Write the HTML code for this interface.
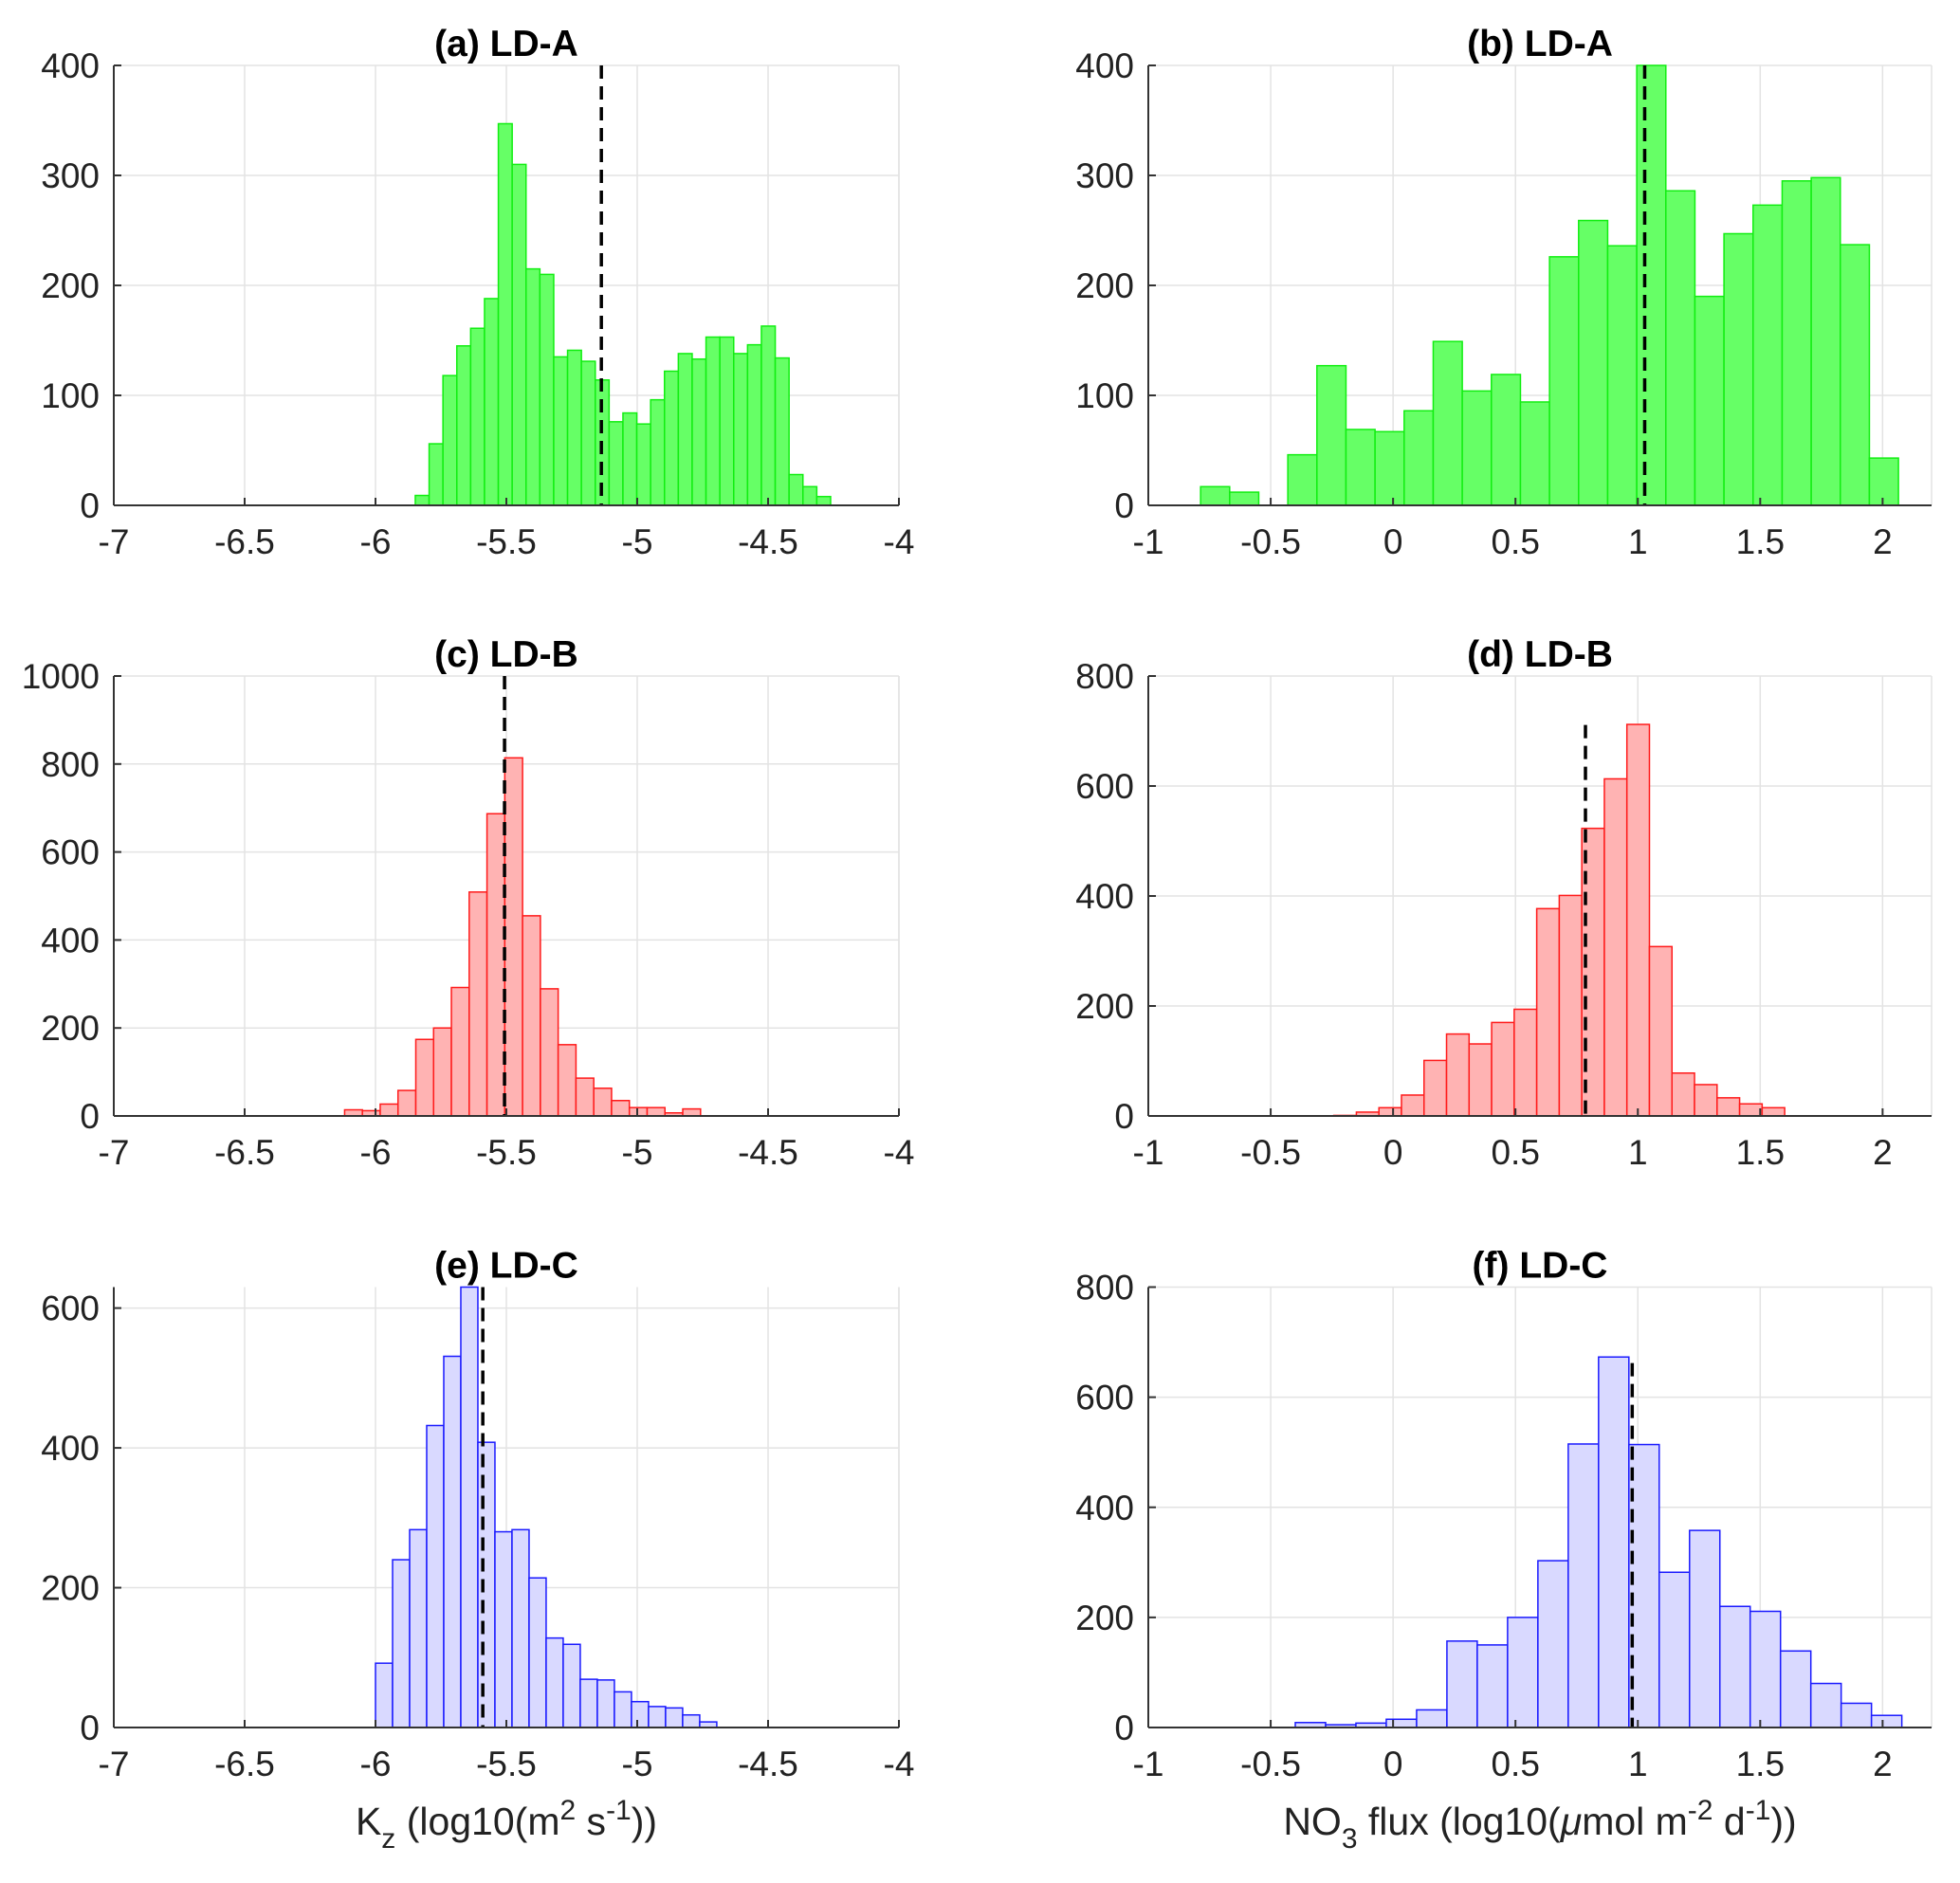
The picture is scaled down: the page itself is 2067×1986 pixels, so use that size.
<!DOCTYPE html>
<html><head><meta charset="utf-8"><style>
html,body{margin:0;padding:0;background:#fff;}
svg{display:block;font-family:"Liberation Sans",Arial,sans-serif;}
</style></head><body>
<svg id="fig" width="2067" height="1986" viewBox="0 0 2067 1986" xmlns="http://www.w3.org/2000/svg"></svg>
<script>
// Panel (a) Kz LD-A
const aStart = -5.848, aWidth = 0.0529;
const aCounts = [9,56,118,145,161,188,347,310,215,210,135,141,131,114,76,84,74,96,122,138,133,153,153,138,146,163,134,28,17,8];
const aMedian = -5.137, aMedTop = 400;
// Panel (b) NO3 LD-A
const bStart = -1.024, bWidth = 0.1188;
const bCounts = [0,0,17,12,0,46,127,69,67,86,149,104,119,94,226,259,236,400,286,190,247,273,295,298,237,43];
const bMedian = 1.028, bMedTop = 400;
// Panel (c) Kz LD-B
const cStart = -6.118, cWidth = 0.068;
const cCounts = [14,12,27,58,174,200,292,509,687,814,455,289,162,86,63,35,19,19,7,16];
const cMedian = -5.507, cMedTop = 1000;
// Panel (d) NO3 LD-B
const dStart = -0.242, dWidth = 0.0921;
const dCounts = [1,7,15,38,101,149,131,170,194,377,401,523,613,712,308,78,57,33,22,15];
const dMedian = 0.786, dMedTop = 711;
// Panel (e) Kz LD-C
const eStart = -6.0, eWidth = 0.0652;
const eCounts = [92,240,283,432,531,630,408,280,283,214,128,119,69,68,51,37,30,28,18,8];
const eMedian = -5.59, eMedTop = 630;
// Panel (f) NO3 LD-C
const fStart = -0.3995, fWidth = 0.1239;
const fCounts = [9,5,8,15,32,157,150,200,303,515,673,514,282,358,220,211,139,80,44,22];
const fMedian = 0.977, fMedTop = 662;

const kzTicks = [-7,-6.5,-6,-5.5,-5,-4.5,-4];
const kzTickLabels = ["-7","-6.5","-6","-5.5","-5","-4.5","-4"];
const no3Ticks = [-1,-0.5,0,0.5,1,1.5,2];
const no3TickLabels = ["-1","-0.5","0","0.5","1","1.5","2"];
const y400 = [0,100,200,300,400];
const y1000 = [0,200,400,600,800,1000];
const y800 = [0,200,400,600,800];
const y600 = [0,200,400,600];

const NS = "http://www.w3.org/2000/svg";
const svg = document.getElementById('fig');
function mk(tag, attrs, parent){
  const e = document.createElementNS(NS, tag);
  for (const k in attrs) e.setAttribute(k, attrs[k]);
  (parent||svg).appendChild(e);
  return e;
}
const LX=[120,948], RX=[1211,2037];
const ROWS=[[69,533],[713,1177],[1357.5,1822]];
const colors = {
  green:{fill:'#66ff66',stroke:'#11ee11'},
  red:{fill:'#ffb3b3',stroke:'#ff1a1a'},
  blue:{fill:'#d9d9ff',stroke:'#1a1aff'}
};
function panel(id, title, box, row, xmin, xmax, ymax, ticks, tickLabels, yticks, start, width, counts, median, medTop, col){
  const [x0,x1]=box, [y0,y1]=row;
  const g = mk('g',{});
  
  
  const sx = v => x0 + (v - xmin)/(xmax - xmin)*(x1 - x0);
  const sy = v => y1 - v/ymax*(y1 - y0);
  const clip = mk('clipPath',{id:'clip-'+id}, g);
  mk('rect',{x:x0,y:y0-1,width:x1-x0,height:y1-y0+2}, clip);
  const grid = mk('g',{stroke:'#e3e3e3','stroke-width':1.5}, g);
  
  
  ticks.forEach(t=>{ mk('line',{x1:sx(t),x2:sx(t),y1:y0,y2:y1},grid); });
  mk('line',{x1:x1,x2:x1,y1:y0,y2:y1},grid);
  yticks.forEach(t=>{ mk('line',{x1:x0,x2:x1,y1:sy(t),y2:sy(t)},grid); });
  const bars = mk('g',{'clip-path':'url(#clip-'+id+')'}, g);
  counts.forEach((c,i)=>{
    const l = sx(start + i*width), r = sx(start + (i+1)*width);
    const b = mk('rect',{x:l,y:sy(c),width:r-l,height:y1-sy(c),fill:colors[col].fill,stroke:colors[col].stroke,'stroke-width':1.5}, bars);
    
    
  });
  const m = mk('line',{x1:sx(median),x2:sx(median),y1:sy(medTop),y2:y1,stroke:'#000','stroke-width':3.5,'stroke-dasharray':'14,8'}, g);
  
  
  const ax = mk('g',{stroke:'#333','stroke-width':2}, g);
  
  
  mk('line',{x1:x0,x2:x1,y1:y1,y2:y1},ax);
  mk('line',{x1:x0,x2:x0,y1:y0,y2:y1},ax);
  ticks.forEach(t=>{ mk('line',{x1:sx(t),x2:sx(t),y1:y1,y2:y1-8},ax); });
  yticks.forEach(t=>{ mk('line',{x1:x0,x2:x0+8,y1:sy(t),y2:sy(t)},ax); });
  ticks.forEach((t,i)=>{
    const tx = mk('text',{x:sx(t),y:y1+51,'text-anchor':'middle','font-size':37,fill:'#222'}, g);
    tx.textContent = tickLabels[i];
    
    
  });
  yticks.forEach(t=>{
    const tx = mk('text',{x:x0-15,y:sy(t)+13,'text-anchor':'end','font-size':37,fill:'#222'}, g);
    tx.textContent = String(t);
    
    
  });
  const tt = mk('text',{x:(x0+x1)/2,y:y0-10,'text-anchor':'middle','font-size':39,'font-weight':'bold',fill:'#000'}, g);
  tt.textContent = title;
  
  
}
panel('a','(a) LD-A',LX,ROWS[0],-7,-4,400,kzTicks,kzTickLabels,y400,aStart,aWidth,aCounts,aMedian,aMedTop,'green');
panel('b','(b) LD-A',RX,ROWS[0],-1,2.2,400,no3Ticks,no3TickLabels,y400,bStart,bWidth,bCounts,bMedian,bMedTop,'green');
panel('c','(c) LD-B',LX,ROWS[1],-7,-4,1000,kzTicks,kzTickLabels,y1000,cStart,cWidth,cCounts,cMedian,cMedTop,'red');
panel('d','(d) LD-B',RX,ROWS[1],-1,2.2,800,no3Ticks,no3TickLabels,y800,dStart,dWidth,dCounts,dMedian,dMedTop,'red');
panel('e','(e) LD-C',LX,ROWS[2],-7,-4,630,kzTicks,kzTickLabels,y600,eStart,eWidth,eCounts,eMedian,eMedTop,'blue');
panel('f','(f) LD-C',RX,ROWS[2],-1,2.2,800,no3Ticks,no3TickLabels,y800,fStart,fWidth,fCounts,fMedian,fMedTop,'blue');
</script>
<svg width="2067" height="1986" style="position:absolute;left:0;top:0" xmlns="http://www.w3.org/2000/svg" font-family="Liberation Sans, Arial, sans-serif">
  <text x="534" y="1935" text-anchor="middle" font-size="41" fill="#222">K<tspan font-size="30" dy="14">z</tspan><tspan dy="-14"> (log10(m</tspan><tspan font-size="30" dy="-16">2</tspan><tspan dy="16"> s</tspan><tspan font-size="30" dy="-16">-1</tspan><tspan dy="16">))</tspan></text>
  <text x="1624" y="1935" text-anchor="middle" font-size="41" fill="#222">NO<tspan font-size="30" dy="14">3</tspan><tspan dy="-14"> flux (log10(</tspan><tspan font-style="italic">μ</tspan><tspan>mol m</tspan><tspan font-size="30" dy="-16">-2</tspan><tspan dy="16"> d</tspan><tspan font-size="30" dy="-16">-1</tspan><tspan dy="16">))</tspan></text>
</svg>
</body></html>
